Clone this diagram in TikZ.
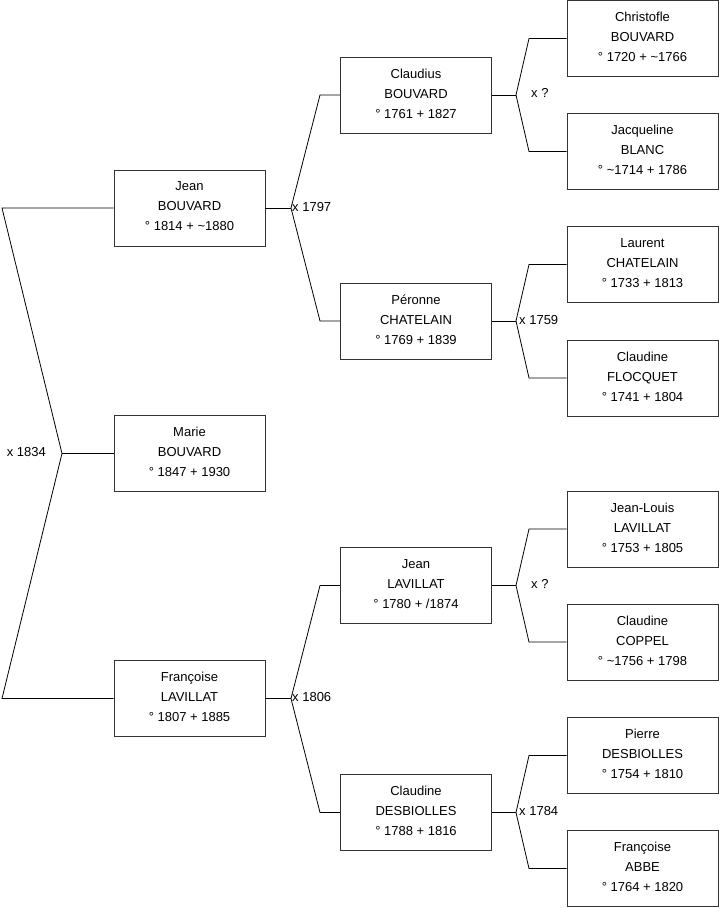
\documentclass[tikz,border=0pt]{standalone}
\usepackage{fontspec}
\setmainfont{Liberation Sans}
\begin{document}
\begin{tikzpicture}[x=1pt,y=-1pt,
 person/.style={draw=black!80, line width=0.8pt, fill=white, minimum width=151pt, minimum height=76pt, inner sep=0pt, text depth=3pt, align=center, font=\fontsize{13}{20}\selectfont},
 link/.style={line width=0.8pt, draw=black},
 mlabel/.style={inner sep=0pt, font=\fontsize{13}{15}\selectfont}]
\useasboundingbox (0,0) rectangle (719,908);
% generation 1
\node[person] (jean)  at (189.5,208) {Jean\\BOUVARD\\° 1814 + \textasciitilde1880};
\node[person] (marie) at (189.5,453.5) {Marie\\BOUVARD\\° 1847 + 1930};
\node[person] (fran)  at (189.5,698.5) {Françoise\\LAVILLAT\\° 1807 + 1885};
% generation 2
\node[person] (claudius) at (416,95) {Claudius\\BOUVARD\\° 1761 + 1827};
\node[person] (peronne)  at (416,321) {Péronne\\CHATELAIN\\° 1769 + 1839};
\node[person] (jeanl)    at (416,585.5) {Jean\\LAVILLAT\\° 1780 + /1874};
\node[person] (claudd)   at (416,812.5) {Claudine\\DESBIOLLES\\° 1788 + 1816};
% generation 3
\node[person] (christ) at (642.5,38.5) {Christofle\\BOUVARD\\° 1720 + \textasciitilde1766};
\node[person] (jacq)   at (642.5,151.5) {Jacqueline\\BLANC\\° \textasciitilde1714 + 1786};
\node[person] (laur)   at (642.5,264.5) {Laurent\\CHATELAIN\\° 1733 + 1813};
\node[person] (claudf) at (642.5,378) {Claudine\\FLOCQUET\\° 1741 + 1804};
\node[person] (jeanlo) at (642.5,529) {Jean-Louis\\LAVILLAT\\° 1753 + 1805};
\node[person] (claudc) at (642.5,642) {Claudine\\COPPEL\\° \textasciitilde1756 + 1798};
\node[person] (pierre) at (642.5,755.5) {Pierre\\DESBIOLLES\\° 1754 + 1810};
\node[person] (franab) at (642.5,868.5) {Françoise\\ABBE\\° 1764 + 1820};
% vertices and bends
\coordinate (v0) at (62,453.5);  \coordinate (b0a) at (2,208);   \coordinate (b0b) at (2,698.5);
\coordinate (vJ) at (291,208);   \coordinate (bJa) at (320,95);  \coordinate (bJb) at (320,321);
\coordinate (vF) at (291,698.5); \coordinate (bFa) at (320,585.5); \coordinate (bFb) at (320,812.5);
\coordinate (vC) at (516,95);    \coordinate (bCa) at (529,38.5); \coordinate (bCb) at (529,151.5);
\coordinate (vP) at (516,321);   \coordinate (bPa) at (529,264.5); \coordinate (bPb) at (529,378);
\coordinate (vL) at (516,585.5); \coordinate (bLa) at (529,529); \coordinate (bLb) at (529,642);
\coordinate (vD) at (516,812.5); \coordinate (bDa) at (529,755.5); \coordinate (bDb) at (529,868.5);
% connectors
\draw[link] (jean.west) -- (b0a) -- (v0) -- (b0b) -- (fran.west);
\draw[link] (v0) -- (marie.west);
\draw[link] (jean.east) -- (vJ);
\draw[link] (claudius.west) -- (bJa) -- (vJ) -- (bJb) -- (peronne.west);
\draw[link] (fran.east) -- (vF);
\draw[link] (jeanl.west) -- (bFa) -- (vF) -- (bFb) -- (claudd.west);
\draw[link] (claudius.east) -- (vC);
\draw[link] (christ.west) -- (bCa) -- (vC) -- (bCb) -- (jacq.west);
\draw[link] (peronne.east) -- (vP);
\draw[link] (laur.west) -- (bPa) -- (vP) -- (bPb) -- (claudf.west);
\draw[link] (jeanl.east) -- (vL);
\draw[link] (jeanlo.west) -- (bLa) -- (vL) -- (bLb) -- (claudc.west);
\draw[link] (claudd.east) -- (vD);
\draw[link] (pierre.west) -- (bDa) -- (vD) -- (bDb) -- (franab.west);
% marriage labels
\node[mlabel, anchor=east] (m0) at (46,452) {x 1834};
\node[mlabel, anchor=west] (mJ) at (292,207) {x 1797};
\node[mlabel, anchor=west] (mF) at (292,697.5) {x 1806};
\node[mlabel, anchor=west] (mC) at (531,93) {x ?};
\node[mlabel, anchor=west] (mP) at (519,320) {x 1759};
\node[mlabel, anchor=west] (mL) at (531,583.5) {x ?};
\node[mlabel, anchor=west] (mD) at (519,811.5) {x 1784};
\end{tikzpicture}
\end{document}
